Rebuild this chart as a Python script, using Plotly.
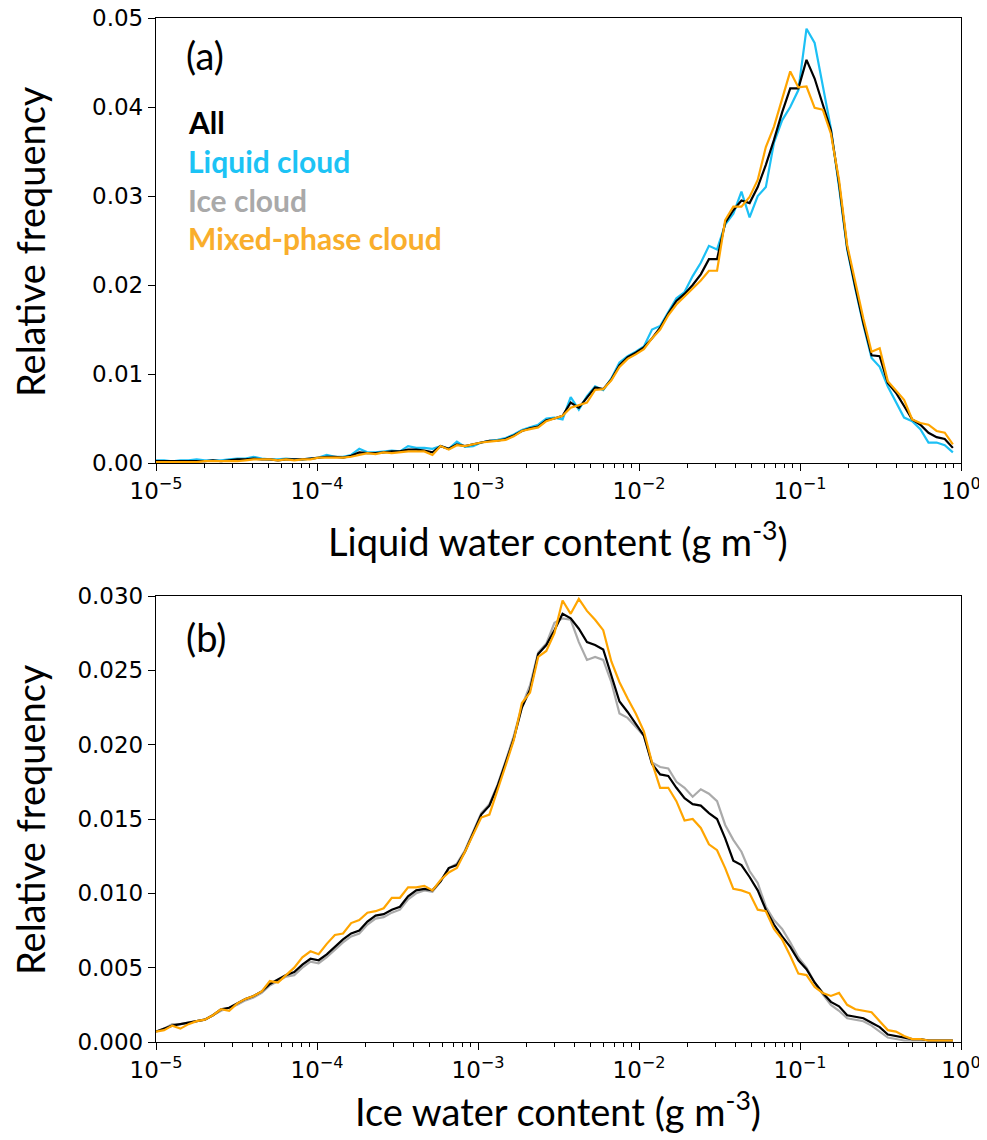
import numpy as np
import plotly.graph_objects as go

# ---------------- data ----------------
# histogram bin left edges (99 log-spaced bins between 1e-5 and 1 g m-3)
bin_edges = np.logspace(-5, 0, 100)
lwc_bins = bin_edges[:-1]
iwc_bins = bin_edges[:-1]

lwc_all = [
    0.0002, 0.0002, 0.0002, 0.0002, 0.0002, 0.0002, 0.0002, 0.0003, 0.0002, 0.0003,
    0.0004, 0.0004, 0.0005, 0.0004, 0.0004, 0.0003, 0.0004, 0.0004, 0.0004, 0.0005,
    0.0006, 0.0007, 0.0007, 0.0006, 0.0008, 0.0012, 0.0011, 0.0011, 0.0012, 0.0013,
    0.0013, 0.0015, 0.0015, 0.0014, 0.0012, 0.0019, 0.0016, 0.0021, 0.0019, 0.0021,
    0.0023, 0.0025, 0.0025, 0.0027, 0.0031, 0.0036, 0.0039, 0.0041, 0.0048, 0.0050,
    0.0053, 0.0068, 0.0062, 0.0074, 0.0085, 0.0083, 0.0094, 0.0110, 0.0119, 0.0124,
    0.0130, 0.0140, 0.0152, 0.0168, 0.0182, 0.0190, 0.0200, 0.0212, 0.0229, 0.0229,
    0.0270, 0.0284, 0.0295, 0.0292, 0.0310, 0.0335, 0.0363, 0.0394, 0.0421, 0.0421,
    0.0453, 0.0432, 0.0402, 0.0374, 0.0314, 0.0242, 0.0198, 0.0157, 0.0121, 0.0120,
    0.0090, 0.0079, 0.0064, 0.0049, 0.0043, 0.0034, 0.0029, 0.0027, 0.0017]

lwc_liquid = [
    0.0003, 0.0003, 0.0002, 0.0003, 0.0003, 0.0004, 0.0003, 0.0003, 0.0003, 0.0004,
    0.0005, 0.0005, 0.0007, 0.0005, 0.0004, 0.0004, 0.0005, 0.0004, 0.0004, 0.0005,
    0.0006, 0.0009, 0.0007, 0.0007, 0.0009, 0.0016, 0.0012, 0.0012, 0.0013, 0.0014,
    0.0013, 0.0019, 0.0017, 0.0017, 0.0016, 0.0019, 0.0016, 0.0024, 0.0018, 0.0019,
    0.0023, 0.0025, 0.0026, 0.0028, 0.0032, 0.0037, 0.0040, 0.0043, 0.0050, 0.0051,
    0.0049, 0.0074, 0.0060, 0.0075, 0.0086, 0.0082, 0.0095, 0.0113, 0.0120, 0.0125,
    0.0131, 0.0150, 0.0154, 0.0170, 0.0185, 0.0192, 0.0210, 0.0225, 0.0244, 0.0240,
    0.0268, 0.0280, 0.0305, 0.0276, 0.0300, 0.0310, 0.0360, 0.0385, 0.0400, 0.0419,
    0.0488, 0.0472, 0.0422, 0.0376, 0.0310, 0.0240, 0.0196, 0.0155, 0.0118, 0.0108,
    0.0086, 0.0069, 0.0051, 0.0047, 0.0038, 0.0023, 0.0023, 0.0020, 0.0012]

lwc_mixed = [
    0.0001, 0.0001, 0.0001, 0.0001, 0.0001, 0.0001, 0.0002, 0.0002, 0.0002, 0.0002,
    0.0002, 0.0003, 0.0004, 0.0004, 0.0004, 0.0003, 0.0004, 0.0003, 0.0004, 0.0004,
    0.0006, 0.0006, 0.0006, 0.0006, 0.0007, 0.0009, 0.0011, 0.0010, 0.0012, 0.0011,
    0.0012, 0.0013, 0.0013, 0.0013, 0.0009, 0.0019, 0.0015, 0.0020, 0.0019, 0.0021,
    0.0023, 0.0024, 0.0025, 0.0026, 0.0030, 0.0036, 0.0038, 0.0040, 0.0047, 0.0050,
    0.0053, 0.0062, 0.0065, 0.0068, 0.0082, 0.0083, 0.0093, 0.0108, 0.0117, 0.0122,
    0.0128, 0.0140, 0.0150, 0.0166, 0.0178, 0.0187, 0.0195, 0.0205, 0.0216, 0.0216,
    0.0273, 0.0288, 0.0288, 0.0299, 0.0318, 0.0355, 0.0378, 0.0408, 0.0440, 0.0422,
    0.0423, 0.0399, 0.0397, 0.0370, 0.0318, 0.0245, 0.0202, 0.0162, 0.0125, 0.0129,
    0.0092, 0.0082, 0.0071, 0.0049, 0.0045, 0.0043, 0.0036, 0.0034, 0.0021]

iwc_all = [
    0.0007, 0.0009, 0.0011, 0.0012, 0.0013, 0.0014, 0.0015, 0.0018, 0.0022, 0.0023,
    0.0026, 0.0029, 0.0031, 0.0034, 0.0039, 0.0042, 0.0045, 0.0047, 0.0052, 0.0056,
    0.0055, 0.0059, 0.0064, 0.0069, 0.0073, 0.0075, 0.0081, 0.0085, 0.0086, 0.0089,
    0.0091, 0.0098, 0.0102, 0.0103, 0.0102, 0.0108, 0.0117, 0.0119, 0.0128, 0.0141,
    0.0153, 0.0159, 0.0172, 0.0188, 0.0204, 0.0225, 0.0237, 0.0261, 0.0267, 0.0277,
    0.0288, 0.0285, 0.0278, 0.0269, 0.0267, 0.0264, 0.0247, 0.0229, 0.0222, 0.0214,
    0.0206, 0.0187, 0.0180, 0.0179, 0.0171, 0.0164, 0.0160, 0.0159, 0.0154, 0.0150,
    0.0137, 0.0122, 0.0119, 0.0111, 0.0102, 0.0089, 0.0079, 0.0071, 0.0064, 0.0055,
    0.0049, 0.0040, 0.0033, 0.0027, 0.0024, 0.0018, 0.0017, 0.0016, 0.0013, 0.0010,
    0.0005, 0.0004, 0.0003, 0.0002, 0.0002, 0.0001, 0.0001, 0.0001, 0.0001]

iwc_ice = [
    0.0007, 0.0009, 0.0012, 0.0012, 0.0013, 0.0014, 0.0015, 0.0018, 0.0021, 0.0023,
    0.0025, 0.0028, 0.0030, 0.0033, 0.0038, 0.0041, 0.0044, 0.0045, 0.0050, 0.0054,
    0.0053, 0.0057, 0.0062, 0.0067, 0.0071, 0.0073, 0.0079, 0.0083, 0.0084, 0.0087,
    0.0089, 0.0096, 0.0100, 0.0102, 0.0101, 0.0108, 0.0117, 0.0120, 0.0129, 0.0142,
    0.0154, 0.0160, 0.0173, 0.0189, 0.0206, 0.0226, 0.0240, 0.0262, 0.0268, 0.0282,
    0.0285, 0.0284, 0.0269, 0.0257, 0.0259, 0.0257, 0.0242, 0.0221, 0.0218, 0.0212,
    0.0206, 0.0188, 0.0185, 0.0184, 0.0175, 0.0171, 0.0165, 0.0170, 0.0167, 0.0162,
    0.0146, 0.0136, 0.0128, 0.0115, 0.0107, 0.0091, 0.0082, 0.0076, 0.0067, 0.0057,
    0.0050, 0.0040, 0.0032, 0.0025, 0.0021, 0.0016, 0.0015, 0.0014, 0.0011, 0.0007,
    0.0003, 0.0002, 0.0001, 0.0001, 0.0001, 0.0001, 0.0001, 0.0001, 0.0001]

iwc_mixed = [
    0.0007, 0.0008, 0.0011, 0.0009, 0.0012, 0.0014, 0.0015, 0.0018, 0.0022, 0.0021,
    0.0026, 0.0029, 0.0031, 0.0034, 0.0041, 0.0040, 0.0045, 0.0050, 0.0057, 0.0061,
    0.0059, 0.0066, 0.0072, 0.0073, 0.0080, 0.0082, 0.0087, 0.0088, 0.0090, 0.0097,
    0.0097, 0.0104, 0.0104, 0.0105, 0.0102, 0.0109, 0.0114, 0.0117, 0.0128, 0.0140,
    0.0151, 0.0153, 0.0169, 0.0186, 0.0203, 0.0228, 0.0235, 0.0259, 0.0263, 0.0275,
    0.0297, 0.0288, 0.0298, 0.0290, 0.0284, 0.0277, 0.0256, 0.0242, 0.0231, 0.0221,
    0.0209, 0.0188, 0.0171, 0.0171, 0.0162, 0.0149, 0.0150, 0.0144, 0.0133, 0.0129,
    0.0117, 0.0103, 0.0102, 0.0100, 0.0089, 0.0088, 0.0076, 0.0069, 0.0058, 0.0046,
    0.0045, 0.0037, 0.0033, 0.0031, 0.0033, 0.0025, 0.0022, 0.0021, 0.0020, 0.0014,
    0.0008, 0.0007, 0.0004, 0.0002, 0.0002, 0.0001, 0.0001, 0.0001, 0.0001]

legend_labels = ["All", "Liquid cloud", "Ice cloud", "Mixed-phase cloud"]
x_tick_vals = [1e-5, 1e-4, 1e-3, 1e-2, 1e-1, 1e0]
x_tick_text = ["10<sup>\u22125</sup>", "10<sup>\u22124</sup>", "10<sup>\u22123</sup>",
               "10<sup>\u22122</sup>", "10<sup>\u22121</sup>", "10<sup>0</sup>"]
ya_ticks = [0.00, 0.01, 0.02, 0.03, 0.04, 0.05]
yb_ticks = [0.000, 0.005, 0.010, 0.015, 0.020, 0.025, 0.030]

# ---------------- styling ----------------
C_ALL = "#000000"
C_LIQ = "#1CC0F5"
C_ICE = "#AAAAAA"
C_MIX = "#FFA500"
TXT_LIQ = "#1CC3F5"
TXT_ICE = "#A9A9A9"
TXT_MIX = "#F9AE2C"
TICK_FONT = dict(family="DejaVu Sans", size=23, color="black")
TITLE_FONT = dict(family="Lato", size=38, color="black")
LW = 2.2

# the page body adds an 8px offset; work in reference-page pixels
OFF = 8
W, H = 987 - OFF, 1140 - OFF
ML = 156 - OFF
MT = 18 - OFF
MR = W - (961 - OFF)
MB = H - (1042 - OFF)
PW = W - ML - MR
PH = H - MT - MB


def px_x(px):
    return (px - OFF - ML) / PW


def px_y(py):
    return (H - MB - (py - OFF)) / PH


fig = go.Figure()

# panel (a)
fig.add_trace(go.Scatter(x=lwc_bins, y=lwc_liquid, mode="lines", line=dict(color=C_LIQ, width=LW),
                         xaxis="x", yaxis="y", showlegend=False))
fig.add_trace(go.Scatter(x=lwc_bins, y=lwc_all, mode="lines", line=dict(color=C_ALL, width=LW),
                         xaxis="x", yaxis="y", showlegend=False))
fig.add_trace(go.Scatter(x=lwc_bins, y=lwc_mixed, mode="lines", line=dict(color=C_MIX, width=LW),
                         xaxis="x", yaxis="y", showlegend=False))
# panel (b)
fig.add_trace(go.Scatter(x=iwc_bins, y=iwc_ice, mode="lines", line=dict(color=C_ICE, width=LW),
                         xaxis="x2", yaxis="y2", showlegend=False))
fig.add_trace(go.Scatter(x=iwc_bins, y=iwc_all, mode="lines", line=dict(color=C_ALL, width=LW),
                         xaxis="x2", yaxis="y2", showlegend=False))
fig.add_trace(go.Scatter(x=iwc_bins, y=iwc_mixed, mode="lines", line=dict(color=C_MIX, width=LW),
                         xaxis="x2", yaxis="y2", showlegend=False))

minor_vals = [k * 10.0 ** e for e in range(-5, 0) for k in range(2, 10)]

common_x = dict(type="log", range=[-5, 0], tickmode="array", tickvals=x_tick_vals,
                ticktext=x_tick_text, ticks="outside", ticklen=7, tickwidth=1.2,
                tickcolor="black", showline=True, linecolor="black", linewidth=1.3,
                mirror=True, showgrid=False, zeroline=False, tickfont=TICK_FONT,
                ticklabeloverflow="allow",
                minor=dict(tickmode="array", tickvals=minor_vals, ticks="outside",
                           ticklen=4, tickwidth=1, tickcolor="black", showgrid=False))
common_y = dict(ticks="outside", ticklen=7, tickwidth=1.2, tickcolor="black",
                showline=True, linecolor="black", linewidth=1.3, mirror=True,
                showgrid=False, zeroline=False, tickfont=TICK_FONT, tickmode="array",
                ticklabeloverflow="allow")

dom_a = [px_y(463), 1.0]
dom_b = [0.0, px_y(596)]

fig.update_layout(
    width=W, height=H,
    margin=dict(l=ML, r=MR, t=MT, b=MB, autoexpand=False),
    paper_bgcolor="white", plot_bgcolor="white",
    xaxis=dict(common_x, anchor="y", domain=[0, 1]),
    yaxis=dict(common_y, anchor="x", domain=dom_a, range=[0, 0.05],
               tickvals=ya_ticks, ticktext=[f"{v:.2f}" for v in ya_ticks]),
    xaxis2=dict(common_x, anchor="y2", domain=[0, 1]),
    yaxis2=dict(common_y, anchor="x2", domain=dom_b, range=[0, 0.030],
                tickvals=yb_ticks, ticktext=[f"{v:.3f}" for v in yb_ticks]),
)

ann = []
# axis titles
ann.append(dict(text="Relative frequency", x=px_x(30), y=px_y(242), textangle=-90,
                font=TITLE_FONT))
ann.append(dict(text="Relative frequency", x=px_x(30), y=px_y(820), textangle=-90,
                font=TITLE_FONT))
ann.append(dict(text="Liquid water content (g m<sup>-3</sup>)", x=px_x(558), y=px_y(539),
                font=TITLE_FONT))
ann.append(dict(text="Ice water content (g m<sup>-3</sup>)", x=px_x(558), y=px_y(1109),
                font=TITLE_FONT))
# panel labels
ann.append(dict(text="(a)", x=px_x(184), y=px_y(55), xanchor="left", font=TITLE_FONT))
ann.append(dict(text="(b)", x=px_x(184), y=px_y(637), xanchor="left", font=TITLE_FONT))
# legend text
leg_colors = ["black", TXT_LIQ, TXT_ICE, TXT_MIX]
leg_y = [122, 161, 200, 238]
for lab, col, yy in zip(legend_labels, leg_colors, leg_y):
    ann.append(dict(text=f"<b>{lab}</b>", x=px_x(186), y=px_y(yy), xanchor="left",
                    font=dict(family="Lato", size=30, color=col)))

for a in ann:
    a.setdefault("xanchor", "center")
    a.setdefault("yanchor", "middle")
    a.update(xref="paper", yref="paper", showarrow=False)
fig.update_layout(annotations=ann)

fig.write_html("out.html")
